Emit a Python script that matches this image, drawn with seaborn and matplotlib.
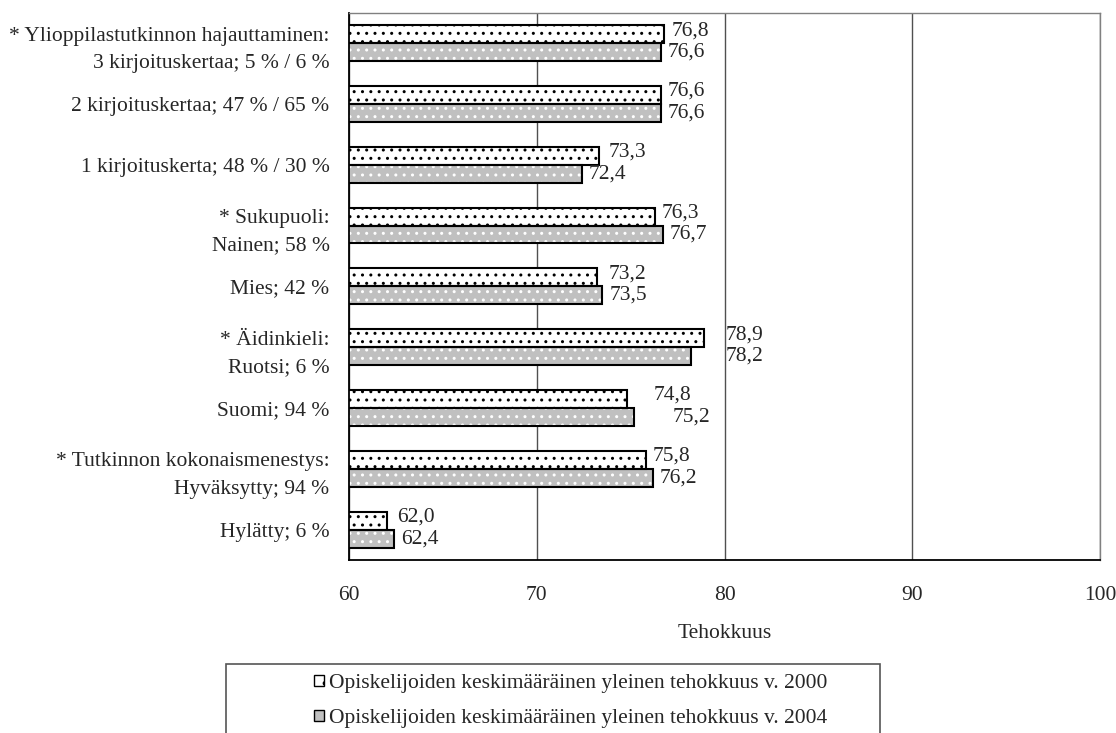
import matplotlib
matplotlib.use("Agg")
import matplotlib.pyplot as plt
from matplotlib.patches import Patch, Rectangle
import numpy as np
import pandas as pd
import seaborn as sns

# ---- data -------------------------------------------------------------
categories = [
    "* Ylioppilastutkinnon hajauttaminen:\n3 kirjoituskertaa; 5 % / 6 %",
    "2 kirjoituskertaa; 47 % / 65 %",
    "1 kirjoituskerta; 48 % / 30 %",
    "* Sukupuoli:\nNainen; 58 %",
    "Mies; 42 %",
    "* Äidinkieli:\nRuotsi; 6 %",
    "Suomi; 94 %",
    "* Tutkinnon kokonaismenestys:\nHyväksytty; 94 %",
    "Hylätty; 6 %",
]
series_names = [
    "Opiskelijoiden keskimääräinen yleinen tehokkuus v. 2000",
    "Opiskelijoiden keskimääräinen yleinen tehokkuus v. 2004",
]
values_2000 = [76.8, 76.6, 73.3, 76.3, 73.2, 78.9, 74.8, 75.8, 62.0]
values_2004 = [76.6, 76.6, 72.4, 76.7, 73.5, 78.2, 75.2, 76.2, 62.4]
x_ticks = [60, 70, 80, 90, 100]
x_title = "Tehokkuus"

df = pd.DataFrame({
    "ryhma": categories * 2,
    "sarja": [series_names[0]] * len(categories) + [series_names[1]] * len(categories),
    "tehokkuus": values_2000 + values_2004,
})

# ---- style ------------------------------------------------------------
sns.set_style("white")
plt.rcParams["font.family"] = ["Liberation Serif", "DejaVu Serif"]
plt.rcParams["hatch.linewidth"] = 1.0
FS = 15.5

fill_colors = {series_names[0]: "#ffffff", series_names[1]: "#c0c0c0"}
dot_colors = ["#000000", "#ffffff"]
outline = {s: "#000000" for s in series_names}

W, H = 1116, 733
fig = plt.figure(figsize=(W / 100, H / 100), dpi=100)
ax = fig.add_axes([349 / W, 1 - 560 / H, 751 / W, 547.3 / H])

# filled bars carrying the dot texture
sns.barplot(data=df, y="ryhma", x="tehokkuus", hue="sarja", order=categories,
            hue_order=series_names, palette=fill_colors, orient="h", width=0.59,
            saturation=1, errorbar=None, legend=False, linewidth=0, ax=ax)
for cont, dc in zip(ax.containers[:2], dot_colors):
    for p in cont:
        p.set_hatch("..")
        p.set_edgecolor(dc)
        p.set_linewidth(0)

# black outlines on top
sns.barplot(data=df, y="ryhma", x="tehokkuus", hue="sarja", order=categories,
            hue_order=series_names, palette=outline, orient="h", width=0.59,
            fill=False, errorbar=None, legend=False, linewidth=1.5, ax=ax)

# value labels (comma decimal)
label_nudge = {(5, 0): 16.0, (5, 1): 25.5, (6, 0): 19.5, (6, 1): 27.5,
               (2, 0): 7.0, (4, 0): 8.4, (8, 0): 7.8}
dy = [2.5, 0.0]
for s, cont in enumerate(ax.containers[2:4]):
    anns = ax.bar_label(cont, fmt=lambda v: f"{v:.1f}".replace(".", ","),
                        padding=5, fontsize=FS)
    for i, a in enumerate(anns):
        a.xyann = (label_nudge.get((i, s), 5.0), dy[s])

# axes
ax.set_xlim(x_ticks[0], x_ticks[-1])
ax.set_xticks(x_ticks)
ax.set_xticklabels([str(t) for t in x_ticks], fontsize=FS)
ax.set_xlabel(x_title, fontsize=FS, labelpad=14)
ax.set_ylabel("")

ax.set_yticks(range(len(categories)))
ax.set_yticklabels(categories, fontsize=FS)
for t in ax.get_yticklabels():
    t.set_linespacing(1.6)
ax.set_yticks(np.arange(-0.5, len(categories), 1.0), minor=True)
ax.set_ylim(len(categories) - 0.5, -0.5)
ax.tick_params(axis="y", which="major", length=0, pad=14)
ax.tick_params(axis="y", which="minor", length=4.5, width=1, color="black",
               direction="out")
ax.tick_params(axis="x", which="major", length=4.5, width=1, color="black",
               direction="out", pad=14)

ax.grid(False)
ax.xaxis.grid(True, color="#505050", linewidth=1)
ax.set_axisbelow(True)
for side in ("left", "bottom"):
    ax.spines[side].set_color("black")
    ax.spines[side].set_linewidth(1.3)
for side in ("top", "right"):
    ax.spines[side].set_color("#808080")
    ax.spines[side].set_linewidth(1.0)

# legend below the chart, framed
handles = [Patch(facecolor="#ffffff", edgecolor="black", linewidth=1, hatch="."),
           Patch(facecolor="#c0c0c0", edgecolor="black", linewidth=1)]
fig.legend(handles, series_names, loc="upper left",
           bbox_to_anchor=(314 / W, 1 - 674 / H), frameon=False, fontsize=FS,
           handlelength=0.45, handleheight=0.45, handletextpad=0.25,
           labelspacing=0.75, borderpad=0, borderaxespad=0)
fig.add_artist(Rectangle((226 / W, -0.05), 654 / W, 1 - 664 / H + 0.05,
                         transform=fig.transFigure, fill=False,
                         edgecolor="#555555", linewidth=1.2))

fig.savefig("out.png", dpi=100)
